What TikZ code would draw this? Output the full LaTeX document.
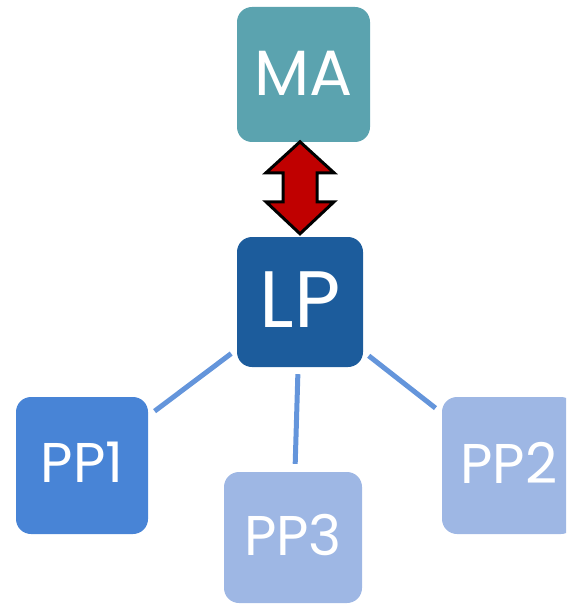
\documentclass[tikz,border=0pt]{standalone}
\usepackage{fontspec}
\setmainfont{Poppins}
\usepackage{tikz}
\usetikzlibrary{positioning}
\definecolor{maTeal}{HTML}{5BA3AF}
\definecolor{lpBlue}{HTML}{1C5C9C}
\definecolor{ppBlue}{HTML}{4884D6}
\definecolor{ppPale}{HTML}{9EB7E4}
\definecolor{linkBlue}{HTML}{6495DB}
\definecolor{arrowRed}{HTML}{C00000}

\begin{document}
\begin{tikzpicture}[x=1pt,y=-1pt]
        \path[use as bounding box,clip] (0,0) rectangle (566,604);
        \begin{scope}[every node/.style={rectangle,rounded corners=15pt,text=white,inner sep=0pt,text depth=6pt,font=\fontsize{56}{60}\selectfont}]
            \node [fill=maTeal,minimum width=133pt,minimum height=135pt,text depth=3pt,font=\fontsize{64}{68}\selectfont] (MA) at (303.5,74.5) {MA};
            \node [fill=lpBlue,minimum width=126pt,minimum height=130pt,text depth=4pt,font=\fontsize{80}{84}\selectfont] (LP) at (300,302) {LP};

            \node [fill=ppBlue,minimum width=132pt,minimum height=137pt] (PP1) at (82,465.5) {PP1};
            \node [fill=ppPale,minimum width=134pt,minimum height=137pt] (PP2) at (509,465.5) {PP2};
            \node [fill=ppPale,minimum width=138pt,minimum height=131pt] (PP3) at (293,537.5) {PP3};
        \end{scope}
        \begin{scope}[every path/.style={draw=linkBlue,line width=5pt,shorten <=7pt,shorten >=8pt}]
            \draw (LP) -- (PP1);
            \draw (LP) -- (PP2);
            \draw (LP) -- (PP3);
        \end{scope}
        % two-way arrow between MA and LP
        \draw[fill=arrowRed,line width=3pt,line join=miter] ([yshift=3pt]LP.north) -- ++(-34,-32) -- ++(17,0) -- ++(0,-29) -- ++(-17,0)
            -- ++(34,-31) -- ++(34,31) -- ++(-17,0) -- ++(0,29) -- ++(17,0) -- cycle;
    \end{tikzpicture}
\end{document}
